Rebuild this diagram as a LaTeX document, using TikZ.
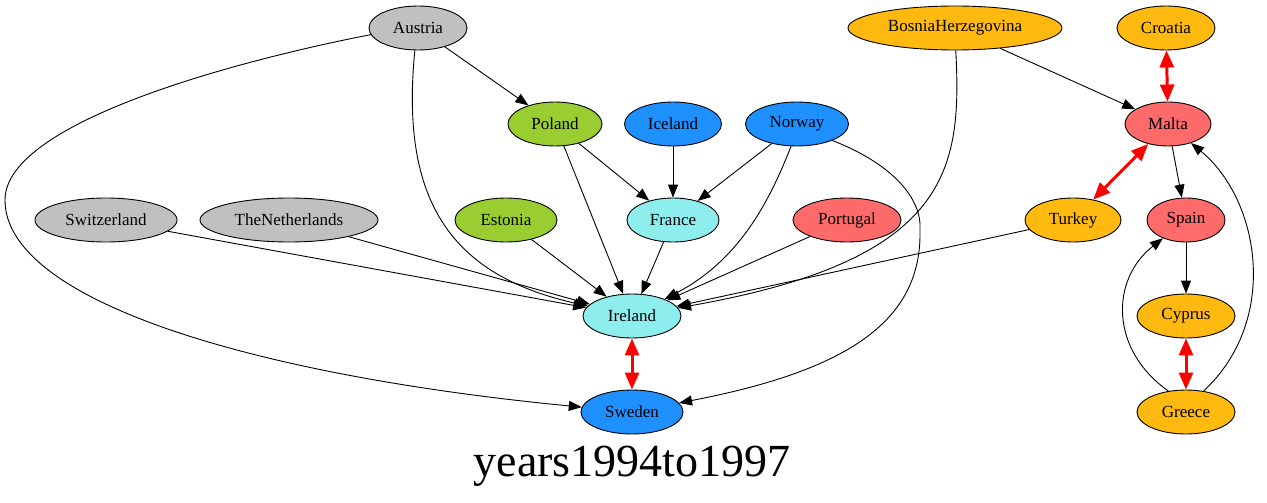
\documentclass[tikz,border=0pt]{standalone}
\usepackage{fontspec}
\setmainfont{Liberation Serif}
\usetikzlibrary{shapes.geometric,arrows.meta}
\definecolor{cgray}{HTML}{C0C0C0}
\definecolor{corange}{HTML}{FFB90F}
\definecolor{cgreen}{HTML}{9ACD32}
\definecolor{cblue}{HTML}{1E90FF}
\definecolor{cred}{HTML}{FF6A6A}
\definecolor{ccyan}{HTML}{8EEEEE}
\tikzset{
  country/.style={ellipse, draw=black, line width=0.9pt, inner sep=0pt, minimum height=44pt, font=\fontsize{17}{20}\selectfont},
  edge/.style={line width=0.9pt, -{Triangle[length=13pt,width=10pt]}},
  mutual/.style={red, line width=3pt, {Triangle[length=17pt,width=14pt]}-{Triangle[length=17pt,width=14pt]}}
}
\begin{document}
\begin{tikzpicture}[x=1pt,y=-1pt]
\useasboundingbox (0,0) rectangle (1267,503);
% nodes
\node[country, fill=cgray, minimum width=98pt] (Austria) at (418,28) {Austria};
\node[country, fill=corange, minimum width=214pt] (Bosnia) at (955,28) {BosniaHerzegovina};
\node[country, fill=corange, minimum width=98pt] (Croatia) at (1166,28) {Croatia};
\node[country, fill=cgreen, minimum width=94pt] (Poland) at (555,124) {Poland};
\node[country, fill=cblue, minimum width=97pt] (Iceland) at (673,124) {Iceland};
\node[country, fill=cblue, minimum width=103pt] (Norway) at (797,124) {Norway};
\node[country, fill=cred, minimum width=86pt] (Malta) at (1168,124) {Malta};
\node[country, fill=cgray, minimum width=142pt] (Switzerland) at (106,220) {Switzerland};
\node[country, fill=cgray, minimum width=178pt] (Netherlands) at (289,220) {TheNetherlands};
\node[country, fill=cgreen, minimum width=102pt] (Estonia) at (506,220) {Estonia};
\node[country, fill=ccyan, minimum width=92pt] (France) at (673,220) {France};
\node[country, fill=cred, minimum width=108pt] (Portugal) at (847,220) {Portugal};
\node[country, fill=corange, minimum width=96pt] (Turkey) at (1073,220) {Turkey};
\node[country, fill=cred, minimum width=78pt] (Spain) at (1186,220) {Spain};
\node[country, fill=ccyan, minimum width=98pt] (Ireland) at (632,316) {Ireland};
\node[country, fill=corange, minimum width=98pt] (Cyprus) at (1186,316) {Cyprus};
\node[country, fill=cblue, minimum width=102pt] (Sweden) at (632,412) {Sweden};
\node[country, fill=corange, minimum width=98pt] (Greece) at (1186,412) {Greece};
\node[font=\fontsize{46}{52}\selectfont, inner sep=0pt] (title) at (632,466) {years1994to1997};
% edges
\draw[edge] (Austria) -- (Poland);
\draw[edge] (Austria.-98) .. controls (400,200) and (450,275) .. (Ireland);
\draw[edge] (Austria.188) .. controls (250,58) and (5,120) .. (5,200) .. controls (5,300) and (250,375) .. (Sweden);
\draw[edge] (Bosnia) -- (Malta);
\draw[edge] (Bosnia.-88) .. controls (962,170) and (950,260) .. (Ireland);
\draw[mutual] (Croatia) -- (Malta);
\draw[edge] (Poland) -- (France);
\draw[edge] (Poland) -- (Ireland);
\draw[edge] (Iceland) -- (France);
\draw[edge] (Norway) -- (France);
\draw[edge] (Norway.-105) .. controls (770,200) and (740,260) .. (Ireland);
\draw[edge] (Norway.-25) .. controls (895,165) and (922,200) .. (920,230) .. controls (922,320) and (850,370) .. (Sweden);
\draw[mutual] (Malta) -- (Turkey);
\draw[edge] (Malta) -- (Spain);
\draw[edge] (Switzerland) -- (Ireland);
\draw[edge] (Netherlands) -- (Ireland);
\draw[edge] (Estonia) -- (Ireland);
\draw[edge] (France) -- (Ireland);
\draw[edge] (Portugal) -- (Ireland);
\draw[edge] (Turkey) -- (Ireland);
\draw[edge] (Spain) -- (Cyprus);
\draw[mutual] (Ireland) -- (Sweden);
\draw[mutual] (Cyprus) -- (Greece);
\draw[edge] (Greece.130) .. controls (1110,350) and (1110,280) .. (Spain);
\draw[edge] (Greece.50) .. controls (1280,320) and (1260,200) .. (Malta);
\end{tikzpicture}
\end{document}
